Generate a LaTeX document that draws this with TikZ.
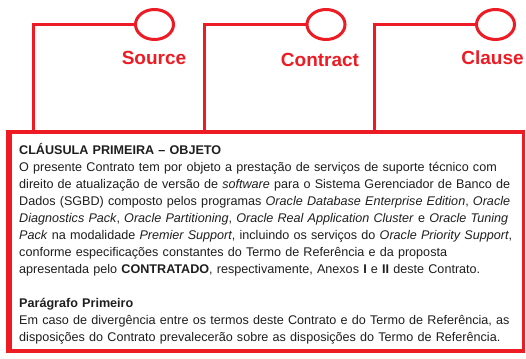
\documentclass[tikz,border=0pt]{standalone}
\usepackage{fontspec}
\setmainfont{Liberation Sans}
\usetikzlibrary{shapes.geometric}
\definecolor{myred}{RGB}{237,28,36}
\definecolor{ink}{RGB}{30,30,30}
\tikzset{
  port/.style={ellipse, draw=myred, line width=3pt, minimum width=38pt, minimum height=30pt, inner sep=0pt},
  conn/.style={draw=myred, line width=3pt},
  lbl/.style={text=myred, font=\fontsize{19}{22}\selectfont\bfseries, inner sep=0pt, anchor=base},
  clbox/.style={draw=myred, line width=3.5pt, minimum width=513pt, minimum height=219pt, inner sep=0pt},
}
\begin{document}
\begin{tikzpicture}[x=1pt,y=-1pt]
\useasboundingbox (0,0) rectangle (526,358);
\node[port] (e1) at (154.5,24.5) {};
\node[port] (e2) at (326,24.5) {};
\node[port] (e3) at (495.5,24.5) {};
\node[lbl] (l1) at (154,65) {Source};
\node[lbl] (l2) at (320,66.5) {Contract};
\node[lbl] (l3) at (492.5,65) {Clause};
\node[clbox] (box) at (267,241.5) {};
\draw[myred, line width=5pt] (box.north west) -- (box.south west);
\coordinate (a1) at (33,132);
\coordinate (a2) at (204,132);
\coordinate (a3) at (374,132);
\draw[conn] (e1.west) -| (a1);
\draw[conn] (e2.west) -| (a2);
\draw[conn] (e3.west) -| (a3);
\node[anchor=north west, inner sep=0pt, text width=500pt, align=left, text=ink,
      font=\fontsize{12.6}{17}\selectfont] (txt) at (19,142.5) {%
\strut\textbf{CLÁUSULA PRIMEIRA – OBJETO}\\
\makebox[\linewidth][s]{O presente Contrato tem por objeto a prestação de serviços de suporte técnico com}\\
\makebox[\linewidth][s]{direito de atualização de versão de \textit{software} para o Sistema Gerenciador de Banco de}\\
\makebox[\linewidth][s]{Dados (SGBD) composto pelos programas \textit{Oracle Database Enterprise Edition}, \textit{Oracle}}\\
\makebox[\linewidth][s]{\textit{Diagnostics Pack}, \textit{Oracle Partitioning}, \textit{Oracle Real Application Cluster} e \textit{Oracle Tuning}}\\
\makebox[\linewidth][s]{\textit{Pack} na modalidade \textit{Premier Support}, incluindo os serviços do \textit{Oracle Priority Support},}\\
\makebox[\linewidth][s]{conforme especificações constantes do Termo de Referência e da proposta}\\
apresentada pelo \textbf{CONTRATADO}, respectivamente, Anexos \textbf{I} e \textbf{II} deste Contrato.\\
\mbox{}\\
\textbf{Parágrafo Primeiro}\\
\makebox[\linewidth][s]{Em caso de divergência entre os termos deste Contrato e do Termo de Referência, as}\\
disposições do Contrato prevalecerão sobre as disposições do Termo de Referência.};
\end{tikzpicture}
\end{document}
